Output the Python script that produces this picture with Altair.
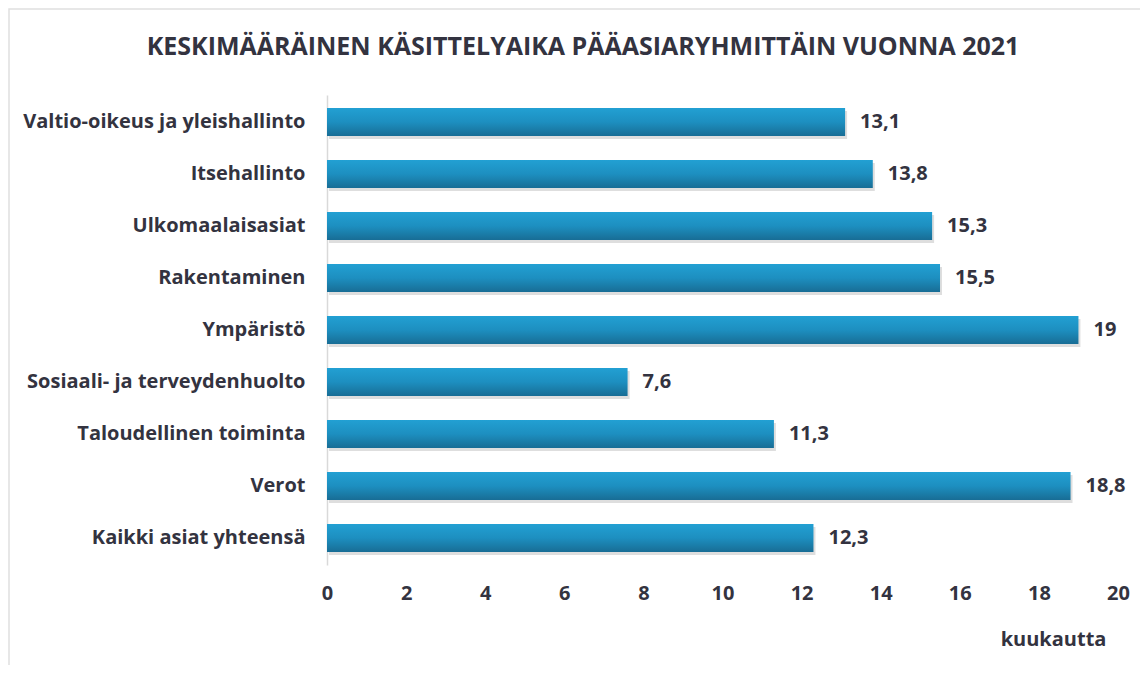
import altair as alt
import pandas as pd

categories = [
    "Valtio-oikeus ja yleishallinto",
    "Itsehallinto",
    "Ulkomaalaisasiat",
    "Rakentaminen",
    "Ympäristö",
    "Sosiaali- ja terveydenhuolto",
    "Taloudellinen toiminta",
    "Verot",
    "Kaikki asiat yhteensä",
]
values = [13.1, 13.8, 15.3, 15.5, 19.0, 7.6, 11.3, 18.8, 12.3]
x_ticks = [0, 2, 4, 6, 8, 10, 12, 14, 16, 18, 20]
title_text = "KESKIMÄÄRÄINEN KÄSITTELYAIKA PÄÄASIARYHMITTÄIN VUONNA 2021"

def fi(v):
    s = ("%g" % v)
    return s.replace(".", ",")

df = pd.DataFrame({"cat": categories, "val": values, "lab": [fi(v) for v in values]})

FONT = "Open Sans"
TXT = "#333340"
FS = 20

x_enc = alt.X("val:Q", scale=alt.Scale(domain=[0, 20], nice=False),
              axis=alt.Axis(values=x_ticks, format="d", grid=False, domain=False, ticks=False,
                            labelFlush=False,
                            labelFont=FONT, labelFontSize=FS, labelFontWeight="bold",
                            labelColor=TXT, labelPadding=18,
                            title="kuukautta", titleFont=FONT, titleFontSize=FS,
                            titleFontWeight="bold", titleColor=TXT,
                            titleX=726, titleY=74, titleAlign="center",
                            titleBaseline="middle"))
y_enc = alt.Y("cat:N", sort=categories,
              scale=alt.Scale(paddingInner=0.46, paddingOuter=0.25),
              axis=alt.Axis(title=None, ticks=False, domain=True, domainColor="#d9d9d9",
                            domainWidth=1.5,
                            labelFont=FONT, labelFontSize=FS, labelFontWeight="bold",
                            labelColor=TXT, labelPadding=22, labelLimit=400))

base = alt.Chart(df).encode(y=y_enc)

shadow = base.mark_bar(color="#000000", opacity=0.13, yOffset=3, xOffset=2).encode(
    x=x_enc)

bars = base.mark_bar(
    color=alt.Gradient(
        gradient="linear",
        stops=[alt.GradientStop(color="#22a0d3", offset=0),
               alt.GradientStop(color="#1d8fc0", offset=0.5),
               alt.GradientStop(color="#186d95", offset=1)],
        x1=0, x2=0, y1=0, y2=1,
    )
).encode(x=x_enc)

labels = base.mark_text(align="left", baseline="middle", dx=15, font=FONT,
                        fontSize=FS, fontWeight="bold", color=TXT).encode(
    x="val:Q", text="lab:N")

one = alt.Data(values=[{"t": title_text}])

border = alt.Chart(one).mark_rect(fill="transparent", stroke="#e0e0e0", strokeWidth=1.5).encode(
    x=alt.value(-318), x2=alt.value(840), y=alt.value(-86), y2=alt.value(600))

title = alt.Chart(one).mark_text(font=FONT, fontSize=25, fontWeight="bold", color=TXT,
                                 align="center", baseline="middle").encode(
    text="t:N", x=alt.value(256), y=alt.value(-48))

chart = alt.layer(border, shadow, bars, labels, title).properties(
    width=791, height=470,
    autosize=alt.AutoSizeParams(type="none"),
    padding={"left": 319, "top": 87, "right": 22, "bottom": 100},
).configure_view(stroke=None)

chart.save("out.html", embed_options={"renderer": "svg", "actions": False})
